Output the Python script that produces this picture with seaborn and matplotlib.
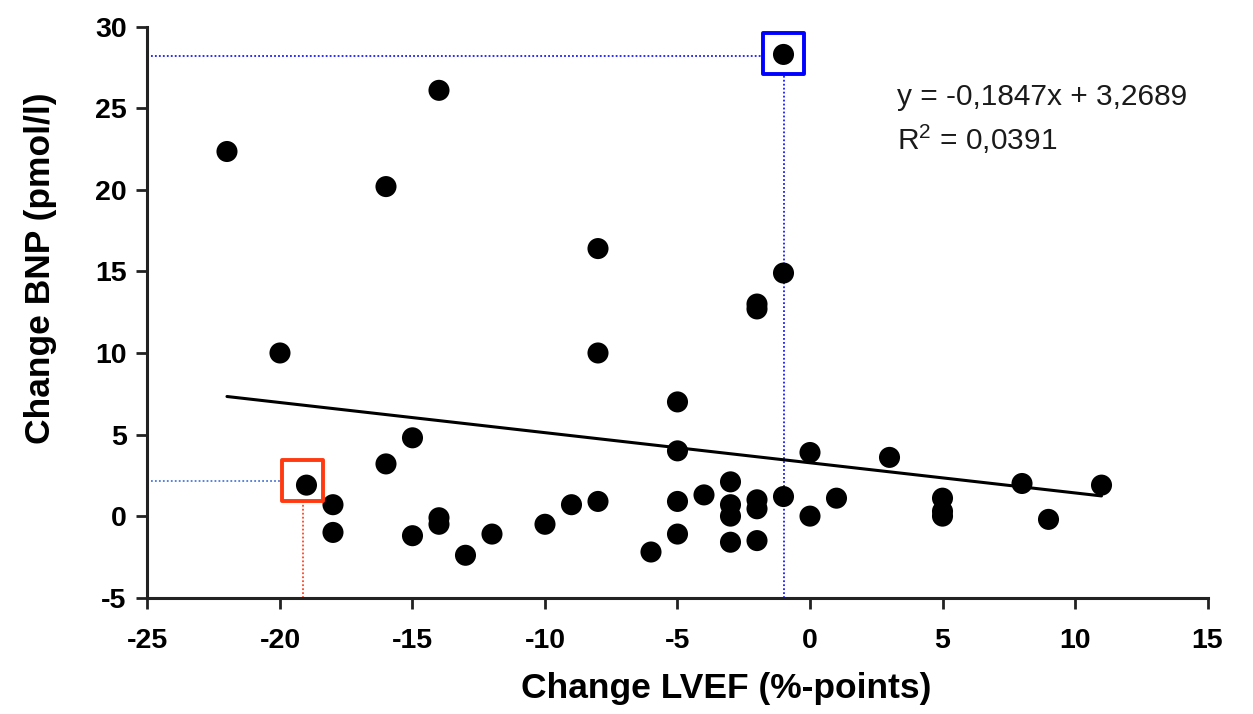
import numpy as np
import pandas as pd
import matplotlib
matplotlib.use("Agg")
import matplotlib.pyplot as plt
import seaborn as sns

sns.set_style("ticks")
plt.rcParams.update({
    'font.family': ['Liberation Sans', 'DejaVu Sans'],
    'mathtext.fontset': 'custom',
    'mathtext.rm': 'Liberation Sans',
    'mathtext.it': 'Liberation Sans:italic',
    'mathtext.bf': 'Liberation Sans:bold',
    'text.color': 'black',
    'axes.labelcolor': 'black',
    'xtick.color': 'black',
    'ytick.color': 'black',
})

# change in LVEF (%-points) vs change in BNP (pmol/l)
lvef = [-22, -20, -19, -18, -18, -16, -16, -15, -15, -14, -14, -14, -13, -12,
        -10, -9, -8, -8, -8, -6, -5, -5, -5, -5, -4, -3, -3, -3, -3,
        -2, -2, -2, -2, -2, -1, -1, -1, 0, 0, 1, 3, 5, 5, 5, 8, 9, 11]
bnp = [22.35, 10.0, 1.9, 0.7, -1.0, 20.2, 3.2, 4.8, -1.2, 26.1, -0.1, -0.5, -2.4, -1.1,
       -0.5, 0.7, 16.4, 10.0, 0.9, -2.2, 7.0, 4.0, 0.9, -1.1, 1.3, 2.1, 0.7, 0.0, -1.6,
       13.0, 12.7, 1.0, 0.45, -1.5, 28.3, 14.9, 1.2, 3.9, 0.0, 1.1, 3.6, 1.1, 0.3, 0.0,
       2.0, -0.2, 1.9]

# linear fit as printed on the chart
slope = -0.1847
intercept = 3.2689
fit_x = [-22, 11]

# highlighted points (box centres) and their guide lines
blue_box = (-1.0, 28.35)
red_box = (-19.15, 2.17)

x_ticks = [-25, -20, -15, -10, -5, 0, 5, 10, 15]
y_ticks = [-5, 0, 5, 10, 15, 20, 25, 30]

df = pd.DataFrame({'lvef': lvef, 'bnp': bnp})
fit = pd.DataFrame({'x': fit_x, 'y': [slope * v + intercept for v in fit_x]})

fig = plt.figure(figsize=(12.53, 7.14), dpi=100)
ax = fig.add_axes([0.1177, 0.1629, 0.8460, 0.7997])

# dotted guide lines
dot = (0, (1, 1.2))
ax.plot([-25, blue_box[0] - 0.8], [28.2, 28.2], color='#1a1aff', lw=1.3, ls=dot)
ax.plot([blue_box[0], blue_box[0]], [-5, blue_box[1] - 1.2], color='#1a1aff', lw=1.3, ls=dot)
ax.plot([-25, red_box[0] - 0.8], [2.14, 2.14], color='#4a7ad8', lw=1.3, ls=dot)
ax.plot([red_box[0], red_box[0]], [-5, red_box[1] - 1.2], color='#ff4422', lw=1.3, ls=dot)

sns.lineplot(data=fit, x='x', y='y', color='black', lw=2.2, ax=ax)
sns.scatterplot(data=df, x='lvef', y='bnp', color='black', s=230,
                edgecolor='none', ax=ax, zorder=3)

ax.scatter([blue_box[0]], [blue_box[1]], marker='s', s=880, facecolors='none',
           edgecolors='#0000ff', linewidths=2.8, zorder=4)
ax.scatter([red_box[0]], [red_box[1]], marker='s', s=880, facecolors='none',
           edgecolors='#ff3a10', linewidths=2.8, zorder=4)

ax.text(3.28, 25.2, "y = -0,1847x + 3,2689", fontsize=21.5, color='#1a1a1a')
ax.text(3.28, 22.45, "R$^{2}$ = 0,0391", fontsize=21.5, color='#1a1a1a')

ax.set_xlim(-25, 15)
ax.set_ylim(-5, 30)
ax.set_xticks(x_ticks)
ax.set_yticks(y_ticks)
ax.set_xticklabels([str(v) for v in x_ticks], fontweight='bold', fontsize=20.5)
ax.set_yticklabels([str(v) for v in y_ticks], fontweight='bold', fontsize=20.5)
ax.tick_params(axis='x', length=8, width=2, pad=14, color='#222222')
ax.tick_params(axis='y', length=8, width=2, pad=7, color='#222222')

sns.despine(ax=ax)
for side in ['left', 'bottom']:
    ax.spines[side].set_linewidth(2.2)
    ax.spines[side].set_color('#222222')

ax.set_xlabel("Change LVEF (%-points)", fontweight='bold', fontsize=25.5)
ax.set_ylabel("Change BNP (pmol/l)", fontweight='bold', fontsize=25.5)
ax.xaxis.set_label_coords(0.546, -0.131)
ax.yaxis.set_label_coords(-0.0854, 0.577)

plt.savefig("out.png", dpi=100)
